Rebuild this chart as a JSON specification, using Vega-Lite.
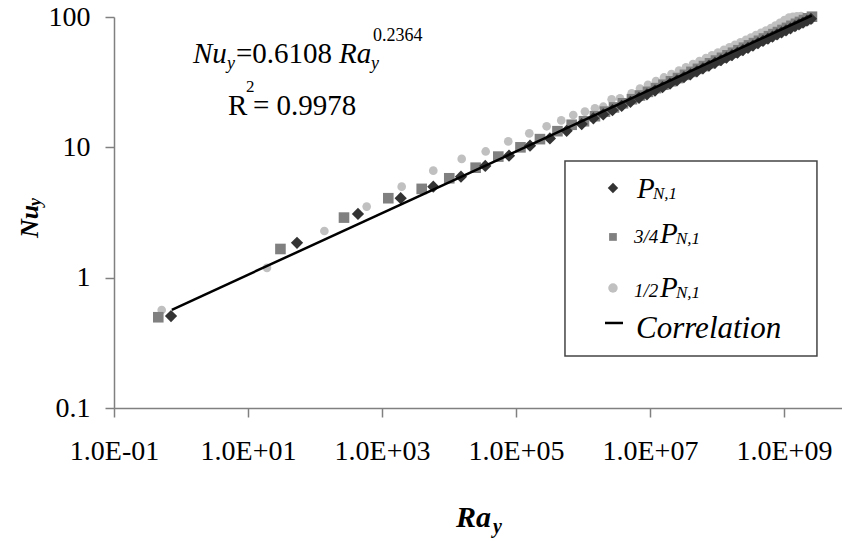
{
  "$schema": "https://vega.github.io/schema/vega-lite/v6.json",
  "width": 728,
  "height": 391,
  "autosize": {"type": "none"},
  "padding": {"left": 114, "top": 17, "right": 0, "bottom": 133},
  "background": "white",
  "config": {
    "view": {"stroke": null},
    "axis": {"grid": false, "domainColor": "#808080", "domainWidth": 1.5, "tickColor": "#808080", "tickWidth": 1.5, "tickSize": 9, "labelFont": "Times New Roman", "labelFontSize": 28, "labelColor": "black", "labelFlush": false, "labelOverlap": false},
    "text": {"font": "Times New Roman", "color": "black", "align": "left", "baseline": "alphabetic"}
  },
  "datasets": {
    "one": [{}],
    "points": [
      {"series": "1/2P", "Ra": 0.515, "Nu": 0.565},
      {"series": "1/2P", "Ra": 19.2, "Nu": 1.19},
      {"series": "1/2P", "Ra": 138, "Nu": 2.28},
      {"series": "1/2P", "Ra": 591, "Nu": 3.51},
      {"series": "1/2P", "Ra": 1968, "Nu": 4.99},
      {"series": "1/2P", "Ra": 5830, "Nu": 6.62},
      {"series": "1/2P", "Ra": 15480, "Nu": 8.15},
      {"series": "1/2P", "Ra": 35300, "Nu": 9.3},
      {"series": "1/2P", "Ra": 76700, "Nu": 11.1},
      {"series": "1/2P", "Ra": 158000, "Nu": 12.8},
      {"series": "1/2P", "Ra": 287000, "Nu": 14.5},
      {"series": "1/2P", "Ra": 474000, "Nu": 16.1},
      {"series": "1/2P", "Ra": 716000, "Nu": 17.7},
      {"series": "1/2P", "Ra": 1070000, "Nu": 18.8},
      {"series": "1/2P", "Ra": 1510000, "Nu": 19.95},
      {"series": "1/2P", "Ra": 2010000, "Nu": 20.5},
      {"series": "1/2P", "Ra": 2680000, "Nu": 23.4},
      {"series": "1/2P", "Ra": 3570000, "Nu": 23.8},
      {"series": "1/2P", "Ra": 5330000, "Nu": 26.0},
      {"series": "1/2P", "Ra": 7096000, "Nu": 28.29},
      {"series": "1/2P", "Ra": 9333000, "Nu": 30.17},
      {"series": "1/2P", "Ra": 12300000, "Nu": 32.21},
      {"series": "1/2P", "Ra": 16180000, "Nu": 34.37},
      {"series": "1/2P", "Ra": 20940000, "Nu": 36.52},
      {"series": "1/2P", "Ra": 27100000, "Nu": 38.82},
      {"series": "1/2P", "Ra": 34430000, "Nu": 41.07},
      {"series": "1/2P", "Ra": 43850000, "Nu": 43.49},
      {"series": "1/2P", "Ra": 54830000, "Nu": 45.85},
      {"series": "1/2P", "Ra": 68550000, "Nu": 48.33},
      {"series": "1/2P", "Ra": 84140000, "Nu": 50.76},
      {"series": "1/2P", "Ra": 103500000, "Nu": 53.28},
      {"series": "1/2P", "Ra": 127100000, "Nu": 55.93},
      {"series": "1/2P", "Ra": 153800000, "Nu": 58.51},
      {"series": "1/2P", "Ra": 185800000, "Nu": 61.18},
      {"series": "1/2P", "Ra": 224400000, "Nu": 63.98},
      {"series": "1/2P", "Ra": 271000000, "Nu": 66.9},
      {"series": "1/2P", "Ra": 321400000, "Nu": 69.66},
      {"series": "1/2P", "Ra": 381900000, "Nu": 72.55},
      {"series": "1/2P", "Ra": 453900000, "Nu": 75.56},
      {"series": "1/2P", "Ra": 538300000, "Nu": 78.67},
      {"series": "1/2P", "Ra": 639700000, "Nu": 82.4},
      {"series": "1/2P", "Ra": 746400000, "Nu": 86.0},
      {"series": "1/2P", "Ra": 871000000, "Nu": 90.2},
      {"series": "1/2P", "Ra": 1016000000, "Nu": 94.7},
      {"series": "1/2P", "Ra": 1189000000, "Nu": 99.0},
      {"series": "1/2P", "Ra": 1361000000, "Nu": 100.5},
      {"series": "1/2P", "Ra": 1563000000, "Nu": 101.2},
      {"series": "1/2P", "Ra": 1795000000, "Nu": 101.8},
      {"series": "3/4P", "Ra": 0.458, "Nu": 0.497},
      {"series": "3/4P", "Ra": 30.5, "Nu": 1.66},
      {"series": "3/4P", "Ra": 271, "Nu": 2.89},
      {"series": "3/4P", "Ra": 1242, "Nu": 4.07},
      {"series": "3/4P", "Ra": 3917, "Nu": 4.8},
      {"series": "3/4P", "Ra": 10100, "Nu": 5.79},
      {"series": "3/4P", "Ra": 25000, "Nu": 6.98},
      {"series": "3/4P", "Ra": 54500, "Nu": 8.49},
      {"series": "3/4P", "Ra": 116700, "Nu": 10.0},
      {"series": "3/4P", "Ra": 228000, "Nu": 11.56},
      {"series": "3/4P", "Ra": 416000, "Nu": 13.3},
      {"series": "3/4P", "Ra": 678000, "Nu": 14.9},
      {"series": "3/4P", "Ra": 1035000, "Nu": 15.85},
      {"series": "3/4P", "Ra": 1510000, "Nu": 17.33},
      {"series": "3/4P", "Ra": 2128000, "Nu": 18.79},
      {"series": "3/4P", "Ra": 2904000, "Nu": 20.23},
      {"series": "3/4P", "Ra": 3954000, "Nu": 21.76},
      {"series": "3/4P", "Ra": 5383000, "Nu": 23.4},
      {"series": "3/4P", "Ra": 7096000, "Nu": 24.98},
      {"series": "3/4P", "Ra": 9333000, "Nu": 26.65},
      {"series": "3/4P", "Ra": 12300000, "Nu": 28.46},
      {"series": "3/4P", "Ra": 15890000, "Nu": 30.22},
      {"series": "3/4P", "Ra": 20560000, "Nu": 32.12},
      {"series": "3/4P", "Ra": 26180000, "Nu": 34.01},
      {"series": "3/4P", "Ra": 33270000, "Nu": 35.99},
      {"series": "3/4P", "Ra": 41590000, "Nu": 37.94},
      {"series": "3/4P", "Ra": 52000000, "Nu": 40.0},
      {"series": "3/4P", "Ra": 63970000, "Nu": 42.01},
      {"series": "3/4P", "Ra": 78700000, "Nu": 44.11},
      {"series": "3/4P", "Ra": 96610000, "Nu": 46.31},
      {"series": "3/4P", "Ra": 118900000, "Nu": 48.63},
      {"series": "3/4P", "Ra": 143600000, "Nu": 50.85},
      {"series": "3/4P", "Ra": 173400000, "Nu": 53.17},
      {"series": "3/4P", "Ra": 209400000, "Nu": 55.6},
      {"series": "3/4P", "Ra": 252900000, "Nu": 58.14},
      {"series": "3/4P", "Ra": 300600000, "Nu": 60.56},
      {"series": "3/4P", "Ra": 356500000, "Nu": 63.05},
      {"series": "3/4P", "Ra": 423600000, "Nu": 65.67},
      {"series": "3/4P", "Ra": 502300000, "Nu": 68.38},
      {"series": "3/4P", "Ra": 597000000, "Nu": 71.24},
      {"series": "3/4P", "Ra": 696600000, "Nu": 73.88},
      {"series": "3/4P", "Ra": 812800000, "Nu": 76.62},
      {"series": "3/4P", "Ra": 950600000, "Nu": 79.51},
      {"series": "3/4P", "Ra": 1109000000, "Nu": 82.46},
      {"series": "3/4P", "Ra": 1294000000, "Nu": 85.52},
      {"series": "3/4P", "Ra": 1510000000, "Nu": 88.69},
      {"series": "3/4P", "Ra": 1734000000, "Nu": 91.64},
      {"series": "3/4P", "Ra": 1991000000, "Nu": 94.69},
      {"series": "3/4P", "Ra": 2280000000, "Nu": 97.77},
      {"series": "3/4P", "Ra": 2618000000, "Nu": 100.5},
      {"series": "P", "Ra": 0.71, "Nu": 0.508},
      {"series": "P", "Ra": 53.9, "Nu": 1.85},
      {"series": "P", "Ra": 438, "Nu": 3.08},
      {"series": "P", "Ra": 1901, "Nu": 4.07},
      {"series": "P", "Ra": 5830, "Nu": 4.99},
      {"series": "P", "Ra": 15100, "Nu": 5.96},
      {"series": "P", "Ra": 34800, "Nu": 7.2},
      {"series": "P", "Ra": 78700, "Nu": 8.63},
      {"series": "P", "Ra": 162000, "Nu": 10.3},
      {"series": "P", "Ra": 321000, "Nu": 11.7},
      {"series": "P", "Ra": 571000, "Nu": 13.4},
      {"series": "P", "Ra": 957000, "Nu": 15.1},
      {"series": "P", "Ra": 1430000, "Nu": 16.7},
      {"series": "P", "Ra": 2010000, "Nu": 17.9},
      {"series": "P", "Ra": 2754000, "Nu": 19.29},
      {"series": "P", "Ra": 3784000, "Nu": 20.8},
      {"series": "P", "Ra": 5117000, "Nu": 22.34},
      {"series": "P", "Ra": 6855000, "Nu": 23.93},
      {"series": "P", "Ra": 9016000, "Nu": 25.54},
      {"series": "P", "Ra": 11890000, "Nu": 27.26},
      {"series": "P", "Ra": 15380000, "Nu": 28.97},
      {"series": "P", "Ra": 19910000, "Nu": 30.8},
      {"series": "P", "Ra": 25290000, "Nu": 32.6},
      {"series": "P", "Ra": 32140000, "Nu": 34.5},
      {"series": "P", "Ra": 40180000, "Nu": 36.36},
      {"series": "P", "Ra": 50230000, "Nu": 38.33},
      {"series": "P", "Ra": 61800000, "Nu": 40.26},
      {"series": "P", "Ra": 76030000, "Nu": 42.28},
      {"series": "P", "Ra": 93330000, "Nu": 44.37},
      {"series": "P", "Ra": 114800000, "Nu": 46.6},
      {"series": "P", "Ra": 138700000, "Nu": 48.73},
      {"series": "P", "Ra": 167500000, "Nu": 50.95},
      {"series": "P", "Ra": 202300000, "Nu": 53.27},
      {"series": "P", "Ra": 244300000, "Nu": 55.7},
      {"series": "P", "Ra": 290400000, "Nu": 58.03},
      {"series": "P", "Ra": 344300000, "Nu": 60.4},
      {"series": "P", "Ra": 409300000, "Nu": 62.93},
      {"series": "P", "Ra": 486400000, "Nu": 65.55},
      {"series": "P", "Ra": 576800000, "Nu": 68.25},
      {"series": "P", "Ra": 673000000, "Nu": 70.78},
      {"series": "P", "Ra": 787000000, "Nu": 73.45},
      {"series": "P", "Ra": 918300000, "Nu": 76.19},
      {"series": "P", "Ra": 1072000000, "Nu": 79.02},
      {"series": "P", "Ra": 1250000000, "Nu": 81.95},
      {"series": "P", "Ra": 1459000000, "Nu": 85.0},
      {"series": "P", "Ra": 1675000000, "Nu": 87.83},
      {"series": "P", "Ra": 1923000000, "Nu": 90.73},
      {"series": "P", "Ra": 2203000000, "Nu": 93.7},
      {"series": "P", "Ra": 2529000000, "Nu": 96.8}
    ],
    "fit": [
      {"Ra": 0.73, "Nu": 0.567},
      {"Ra": 2600000000, "Nu": 102.7}
    ]
  },
  "layer": [
    {
      "data": {"name": "points"},
      "mark": {"type": "point", "filled": true, "opacity": 1},
      "encoding": {
        "x": {"field": "Ra", "type": "quantitative", "title": null,
              "scale": {"type": "log", "domain": [0.1, 7350000000], "nice": false},
              "axis": {"title": null, "values": [0.1, 10, 1000, 100000, 10000000, 1000000000], "labelPadding": 20,
                       "labelExpr": "datum.value < 1 ? '1.0E-01' : datum.value < 100 ? '1.0E+01' : datum.value < 10000 ? '1.0E+03' : datum.value < 1000000 ? '1.0E+05' : datum.value < 100000000 ? '1.0E+07' : '1.0E+09'"}},
        "y": {"field": "Nu", "type": "quantitative", "title": null,
              "scale": {"type": "log", "domain": [0.1, 100], "nice": false},
              "axis": {"title": null, "values": [0.1, 1, 10, 100], "labelPadding": 15,
                       "labelExpr": "datum.value < 1 ? '0.1' : format(datum.value, 'd')"}},
        "shape": {"field": "series", "type": "nominal", "legend": null,
                  "scale": {"domain": ["P", "3/4P", "1/2P"], "range": ["diamond", "square", "circle"]}},
        "color": {"field": "series", "type": "nominal", "legend": null,
                  "scale": {"domain": ["P", "3/4P", "1/2P"], "range": ["#333333", "#808080", "#c0c0c0"]}},
        "size": {"field": "series", "type": "nominal", "legend": null,
                 "scale": {"domain": ["P", "3/4P", "1/2P"], "range": [150, 75, 120]}}
      }
    },
    {
      "data": {"name": "fit"},
      "mark": {"type": "line", "color": "black", "strokeWidth": 2.5},
      "encoding": {
        "x": {"field": "Ra", "type": "quantitative", "title": null},
        "y": {"field": "Nu", "type": "quantitative", "title": null}
      }
    },
    {
      "data": {"name": "one"},
      "mark": {"type": "rect", "fill": "white", "stroke": "#444444", "strokeWidth": 1.5},
      "encoding": {
        "x": {"datum": 538700, "type": "quantitative", "title": null},
        "x2": {"datum": 3108000000},
        "y": {"datum": 7.863, "type": "quantitative", "title": null},
        "y2": {"datum": 0.2506}
      }
    },
    {
      "data": {"name": "one"},
      "mark": {"type": "point", "filled": true, "opacity": 1, "shape": "diamond", "size": 110, "color": "#333333"},
      "encoding": {"x": {"datum": 2804000, "type": "quantitative", "title": null}, "y": {"datum": 4.88, "type": "quantitative", "title": null}}
    },
    {
      "data": {"name": "one"},
      "mark": {"type": "point", "filled": true, "opacity": 1, "shape": "square", "size": 60, "color": "#808080"},
      "encoding": {"x": {"datum": 2804000, "type": "quantitative", "title": null}, "y": {"datum": 2.053, "type": "quantitative", "title": null}}
    },
    {
      "data": {"name": "one"},
      "mark": {"type": "point", "filled": true, "opacity": 1, "shape": "circle", "size": 90, "color": "#c0c0c0"},
      "encoding": {"x": {"datum": 2804000, "type": "quantitative", "title": null}, "y": {"datum": 0.8334, "type": "quantitative", "title": null}}
    },
    {
      "data": {"name": "one"},
      "mark": {"type": "rule", "color": "black", "strokeWidth": 2.5},
      "encoding": {"x": {"datum": 2130000, "type": "quantitative", "title": null}, "x2": {"datum": 3954000}, "y": {"datum": 0.4491, "type": "quantitative", "title": null}}
    },
    {
      "data": {"name": "one"},
      "mark": {"type": "text", "text": "P", "fontSize": 29, "fontStyle": "italic"},
      "encoding": {"x": {"datum": 6397000, "type": "quantitative", "title": null}, "y": {"datum": 4.09, "type": "quantitative", "title": null}}
    },
    {
      "data": {"name": "one"},
      "mark": {"type": "text", "text": "N,1", "fontSize": 17, "fontStyle": "italic"},
      "encoding": {"x": {"datum": 11090000, "type": "quantitative", "title": null}, "y": {"datum": 4.018, "type": "quantitative", "title": null}}
    },
    {
      "data": {"name": "one"},
      "mark": {"type": "text", "text": "3/4", "fontSize": 19, "fontStyle": "italic"},
      "encoding": {"x": {"datum": 5770000, "type": "quantitative", "title": null}, "y": {"datum": 1.846, "type": "quantitative", "title": null}}
    },
    {
      "data": {"name": "one"},
      "mark": {"type": "text", "text": "P", "fontSize": 29, "fontStyle": "italic"},
      "encoding": {"x": {"datum": 14100000, "type": "quantitative", "title": null}, "y": {"datum": 1.846, "type": "quantitative", "title": null}}
    },
    {
      "data": {"name": "one"},
      "mark": {"type": "text", "text": "N,1", "fontSize": 17, "fontStyle": "italic"},
      "encoding": {"x": {"datum": 24430000, "type": "quantitative", "title": null}, "y": {"datum": 1.813, "type": "quantitative", "title": null}}
    },
    {
      "data": {"name": "one"},
      "mark": {"type": "text", "text": "1/2", "fontSize": 19, "fontStyle": "italic"},
      "encoding": {"x": {"datum": 5770000, "type": "quantitative", "title": null}, "y": {"datum": 0.7109, "type": "quantitative", "title": null}}
    },
    {
      "data": {"name": "one"},
      "mark": {"type": "text", "text": "P", "fontSize": 29, "fontStyle": "italic"},
      "encoding": {"x": {"datum": 14100000, "type": "quantitative", "title": null}, "y": {"datum": 0.7109, "type": "quantitative", "title": null}}
    },
    {
      "data": {"name": "one"},
      "mark": {"type": "text", "text": "N,1", "fontSize": 17, "fontStyle": "italic"},
      "encoding": {"x": {"datum": 24430000, "type": "quantitative", "title": null}, "y": {"datum": 0.6985, "type": "quantitative", "title": null}}
    },
    {
      "data": {"name": "one"},
      "mark": {"type": "text", "text": "Correlation", "fontSize": 31, "fontStyle": "italic"},
      "encoding": {"x": {"datum": 6180000, "type": "quantitative", "title": null}, "y": {"datum": 0.3446, "type": "quantitative", "title": null}}
    },
    {
      "data": {"name": "one"},
      "mark": {"type": "text", "text": "Nu", "fontSize": 29, "fontStyle": "italic"},
      "encoding": {"x": {"datum": 1.51, "type": "quantitative", "title": null}, "y": {"datum": 44.43, "type": "quantitative", "title": null}}
    },
    {
      "data": {"name": "one"},
      "mark": {"type": "text", "text": "y", "fontSize": 18, "fontStyle": "italic"},
      "encoding": {"x": {"datum": 4.86, "type": "quantitative", "title": null}, "y": {"datum": 39.97, "type": "quantitative", "title": null}}
    },
    {
      "data": {"name": "one"},
      "mark": {"type": "text", "text": "=0.6108", "fontSize": 29},
      "encoding": {"x": {"datum": 6.62, "type": "quantitative", "title": null}, "y": {"datum": 44.43, "type": "quantitative", "title": null}}
    },
    {
      "data": {"name": "one"},
      "mark": {"type": "text", "text": "Ra", "fontSize": 29, "fontStyle": "italic"},
      "encoding": {"x": {"datum": 228, "type": "quantitative", "title": null}, "y": {"datum": 44.43, "type": "quantitative", "title": null}}
    },
    {
      "data": {"name": "one"},
      "mark": {"type": "text", "text": "y", "fontSize": 18, "fontStyle": "italic"},
      "encoding": {"x": {"datum": 685, "type": "quantitative", "title": null}, "y": {"datum": 39.97, "type": "quantitative", "title": null}}
    },
    {
      "data": {"name": "one"},
      "mark": {"type": "text", "text": "0.2364", "fontSize": 18},
      "encoding": {"x": {"datum": 734, "type": "quantitative", "title": null}, "y": {"datum": 65.55, "type": "quantitative", "title": null}}
    },
    {
      "data": {"name": "one"},
      "mark": {"type": "text", "text": "R", "fontSize": 29},
      "encoding": {"x": {"datum": 5.03, "type": "quantitative", "title": null}, "y": {"datum": 17.73, "type": "quantitative", "title": null}}
    },
    {
      "data": {"name": "one"},
      "mark": {"type": "text", "text": "2", "fontSize": 17},
      "encoding": {"x": {"datum": 9.34, "type": "quantitative", "title": null}, "y": {"datum": 26.6, "type": "quantitative", "title": null}}
    },
    {
      "data": {"name": "one"},
      "mark": {"type": "text", "text": "= 0.9978", "fontSize": 29},
      "encoding": {"x": {"datum": 11.87, "type": "quantitative", "title": null}, "y": {"datum": 17.73, "type": "quantitative", "title": null}}
    },
    {
      "data": {"name": "one"},
      "mark": {"type": "text", "text": "Ra", "fontSize": 30, "fontStyle": "italic", "fontWeight": "bold"},
      "encoding": {"x": {"datum": 12710, "type": "quantitative", "title": null}, "y": {"datum": 0.01221, "type": "quantitative", "title": null}}
    },
    {
      "data": {"name": "one"},
      "mark": {"type": "text", "text": "y", "fontSize": 20, "fontStyle": "italic", "fontWeight": "bold"},
      "encoding": {"x": {"datum": 45400, "type": "quantitative", "title": null}, "y": {"datum": 0.01098, "type": "quantitative", "title": null}}
    },
    {
      "data": {"name": "one"},
      "mark": {"type": "text", "text": "Nu", "fontSize": 26, "fontStyle": "italic", "fontWeight": "bold", "angle": 270},
      "encoding": {"x": {"datum": 0.00734, "type": "quantitative", "title": null}, "y": {"datum": 2.017, "type": "quantitative", "title": null}}
    },
    {
      "data": {"name": "one"},
      "mark": {"type": "text", "text": "y", "fontSize": 18, "fontStyle": "italic", "fontWeight": "bold", "angle": 270},
      "encoding": {"x": {"datum": 0.00813, "type": "quantitative", "title": null}, "y": {"datum": 3.55, "type": "quantitative", "title": null}}
    }
  ]
}
